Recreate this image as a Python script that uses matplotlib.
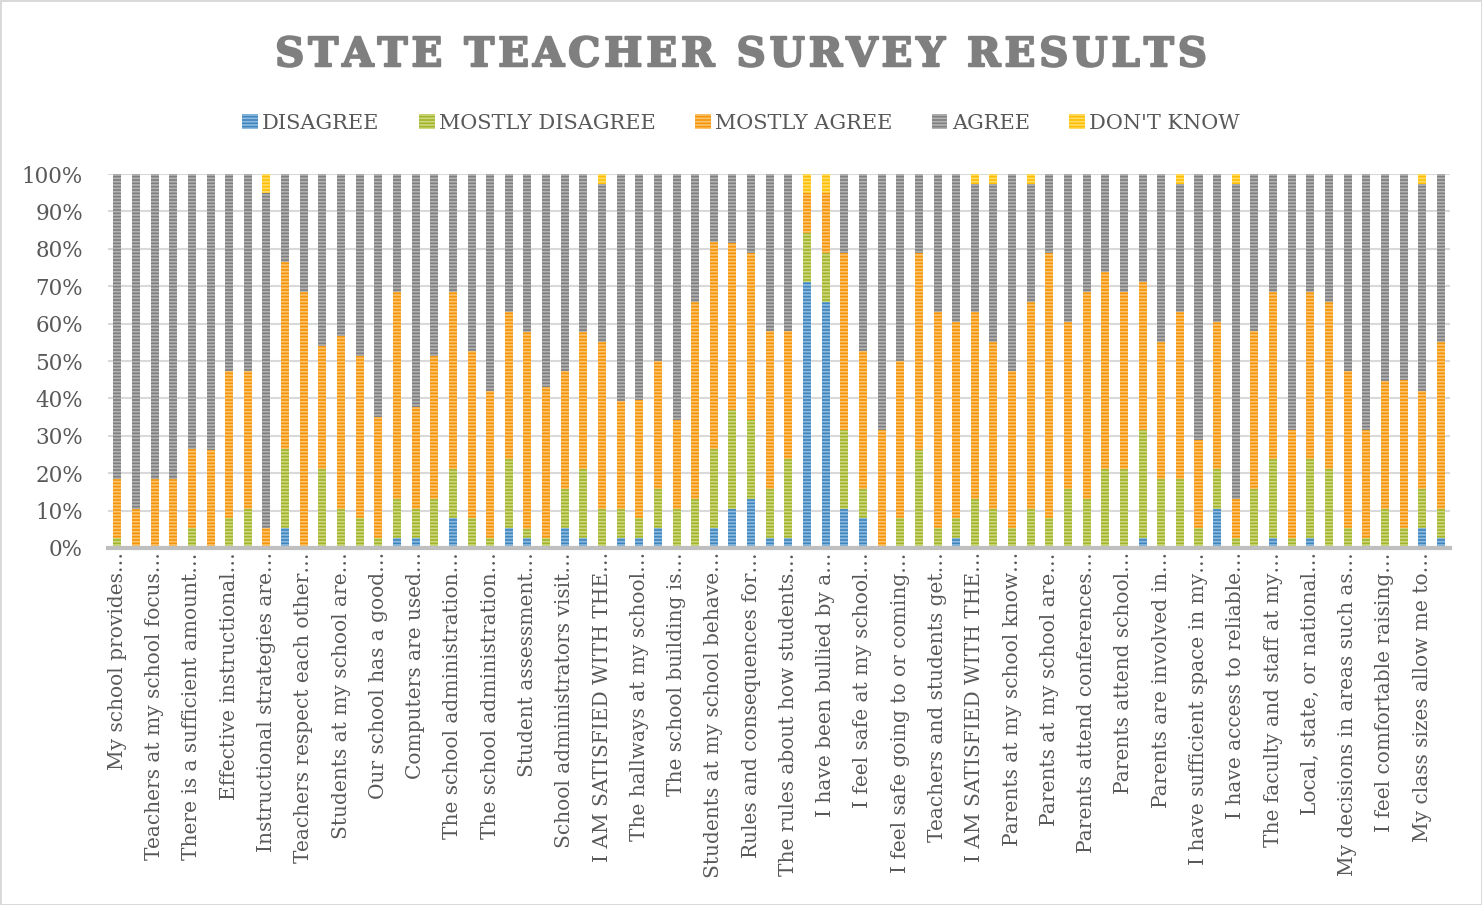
import matplotlib.pyplot as plt
import matplotlib.patheffects as pe
import numpy as np

# survey questions (only every other label is shown on the axis)
labels = ['My school provides…', 'Teachers at my school focus…', 'There is a sufficient amount…',
          'Effective instructional…', 'Instructional strategies are…', 'Teachers respect each other…',
          'Students at my school are…', 'Our school has a good…', 'Computers are used…',
          'The school administration…', 'The school administration…', 'Student assessment…',
          'School administrators visit…', 'I AM SATISFIED WITH THE…', 'The hallways at my school…',
          'The school building is…', 'Students at my school behave…', 'Rules and consequences for…',
          'The rules about how students…', 'I have been bullied by a…', 'I feel safe at my school…',
          'I feel safe going to or coming…', 'Teachers and students get…', 'I AM SATISFIED WITH THE…',
          'Parents at my school know…', 'Parents at my school are…', 'Parents attend conferences…',
          'Parents attend school…', 'Parents are involved in…', 'I have sufficient space in my…',
          'I have access to reliable…', 'The faculty and staff at my…', 'Local, state, or national…',
          'My decisions in areas such as…', 'I feel comfortable raising…', 'My class sizes allow me to…']

disagree = [0, 0, 0, 0, 0, 0, 0, 0, 0, 5.3, 0, 0, 0, 0, 0, 2.6, 2.6, 0, 7.9, 0, 0, 5.3, 2.6, 0,
            5.3, 2.6, 0, 2.6, 2.6, 5.3, 0, 0, 5.3, 10.5, 13.2, 2.6, 2.6, 71.1, 65.8, 10.5, 7.9, 0, 0, 0,
            0, 2.6, 0, 0, 0, 0, 0, 0, 0, 0, 0, 2.6, 0, 0, 0, 10.5, 0, 0, 2.6, 0, 2.6, 0, 0, 0, 0, 0,
            5.3, 2.6]
mostly_disagree = [2.6, 0, 0, 0, 5.3, 0, 7.9, 10.5, 0, 21.1, 0, 21.1, 10.5, 7.9, 2.6, 10.5, 7.9,
                   13.2, 13.2, 7.9, 2.6, 18.4, 2.6, 2.6, 10.5, 18.4, 10.5, 7.9, 5.3, 10.5, 10.5, 13.2,
                   21.1, 26.3, 21.1, 13.2, 21.1, 13.2, 13.2, 21.1, 7.9, 0, 7.9, 26.3, 5.3, 5.3, 13.2,
                   10.5, 5.3, 10.5, 7.9, 15.8, 13.2, 21.1, 21.1, 28.9, 18.4, 18.4, 5.3, 10.5, 2.6,
                   15.8, 21.1, 2.6, 21.1, 21.1, 5.3, 2.6, 10.5, 5.3, 10.5, 7.9]
mostly_agree = [15.8, 10.5, 18.4, 18.4, 21.1, 26.3, 39.5, 36.8, 5.3, 50.0, 68.4, 32.8, 46.2, 43.4,
                32.4, 55.3, 27.1, 38.1, 47.4, 44.7, 39.5, 39.5, 52.6, 40.4, 31.6, 36.8, 44.7, 28.9,
                31.6, 34.2, 23.7, 52.6, 55.3, 44.7, 44.7, 42.1, 34.2, 10.5, 15.8, 47.4, 36.8, 31.6,
                42.1, 52.6, 57.9, 52.6, 50.0, 44.7, 42.1, 55.3, 71.1, 44.7, 55.3, 52.6, 47.4, 39.5,
                36.8, 44.7, 23.7, 39.5, 10.5, 42.1, 44.7, 28.9, 44.7, 44.7, 42.1, 28.9, 34.2, 39.5,
                26.3, 44.7]
agree = [81.6, 89.5, 81.6, 81.6, 73.7, 73.7, 52.6, 52.6, 89.5, 23.7, 31.6, 46.1, 43.3, 48.7, 65.0,
         31.6, 62.4, 48.7, 31.6, 47.4, 57.9, 36.8, 42.1, 57.0, 52.6, 42.1, 42.1, 60.5, 60.5, 50.0,
         65.8, 34.2, 18.4, 18.4, 21.1, 42.1, 42.1, 0, 0, 21.1, 47.4, 68.4, 50.0, 21.1, 36.8, 39.5,
         34.2, 42.1, 52.6, 31.6, 21.1, 39.5, 31.6, 26.3, 31.6, 28.9, 44.7, 34.2, 71.1, 39.5, 84.2,
         42.1, 31.6, 68.4, 31.6, 34.2, 52.6, 68.4, 55.3, 55.3, 55.3, 44.7]
dont_know = [0, 0, 0, 0, 0, 0, 0, 0, 5.3, 0, 0, 0, 0, 0, 0, 0, 0, 0, 0, 0, 0, 0, 0, 0, 0, 0, 2.6,
             0, 0, 0, 0, 0, 0, 0, 0, 0, 0, 5.3, 5.3, 0, 0, 0, 0, 0, 0, 0, 2.6, 2.6, 0, 2.6, 0, 0, 0,
             0, 0, 0, 0, 2.6, 0, 0, 2.6, 0, 0, 0, 0, 0, 0, 0, 0, 0, 2.6, 0]

series = [('DISAGREE', disagree, '#3f86bc', '#8fbbe0'),
          ('MOSTLY DISAGREE', mostly_disagree, '#a2b42a', '#cdd882'),
          ('MOSTLY AGREE', mostly_agree, '#f59406', '#fac472'),
          ('AGREE', agree, '#7f7f7f', '#b3b3b3'),
          ("DON'T KNOW", dont_know, '#ffbf00', '#ffdc6a')]

plt.rcParams['font.family'] = ['DejaVu Serif']
plt.rcParams['hatch.linewidth'] = 1.2

fig = plt.figure(figsize=(14.82, 9.05), dpi=100)
fig.patch.set_edgecolor('#d9d9d9')
fig.patch.set_linewidth(2)
ax = fig.add_axes([0.0729, 0.3945, 0.9056, 0.4132])

x = np.arange(len(disagree))
bottom = np.zeros(len(x))
for name, vals, col, light in series:
    vals = np.array(vals)
    ax.bar(x, vals, 0.43, bottom=bottom, color=col, edgecolor=light, linewidth=0,
           hatch='-----', label=name, zorder=3)
    bottom += vals

ax.set_xlim(-0.5, 71.5)
ax.set_ylim(0, 100)
ax.set_yticks(np.arange(0, 101, 10))
ax.set_yticklabels(['%d%%' % v for v in range(0, 101, 10)], fontsize=15.5, color='#595959')
ax.set_xticks(x[::2])
ax.set_xticklabels(labels, rotation=90, fontsize=14.5, color='#595959')
ax.tick_params(axis='both', length=0)
ax.tick_params(axis='x', pad=3)
ax.tick_params(axis='y', pad=18)
ax.grid(axis='y', color='#d9d9d9', linewidth=1.5, zorder=0)
for s in ['top', 'right', 'left']:
    ax.spines[s].set_visible(False)
ax.spines['bottom'].set_color('#bfbfbf')
ax.spines['bottom'].set_linewidth(3)
ax.spines['bottom'].set_zorder(4)

title = '\u200a'.join('STATE TEACHER SURVEY RESULTS')
fig.text(0.5, 0.939, title, ha='center', va='center', fontsize=29, fontweight='bold',
         color='#7f7f7f', path_effects=[pe.withStroke(linewidth=1.5, foreground='#7f7f7f')])
fig.legend(loc='center', bbox_to_anchor=(0.5, 0.864), ncol=5, frameon=False,
           fontsize=15, handlelength=0.75, handleheight=0.75, handletextpad=0.2,
           columnspacing=1.9, labelcolor='#595959')

fig.savefig('out.png', dpi=100)
